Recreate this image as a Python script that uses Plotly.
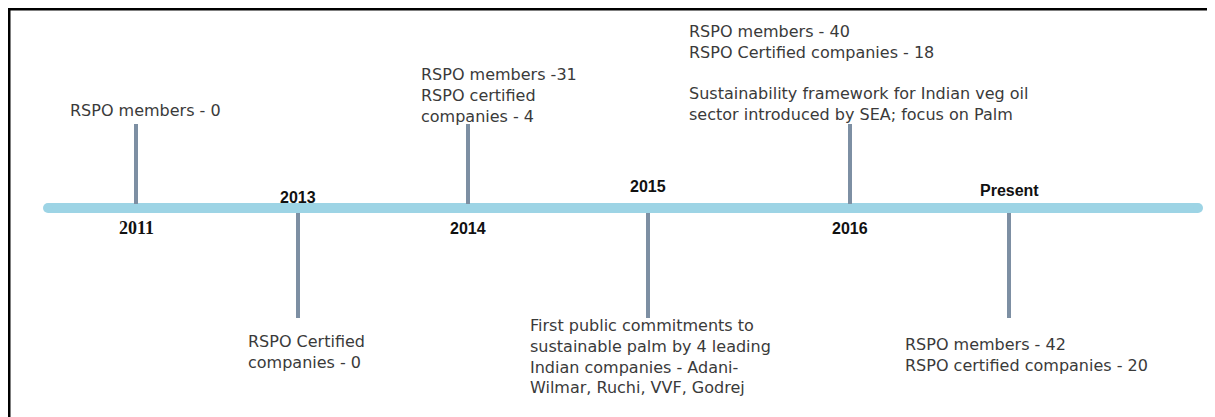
import plotly.graph_objects as go

# ---- data ----
years = ["2011", "2013", "2014", "2015", "2016", "Present"]
side = ["up", "down", "up", "down", "up", "down"]      # where the event text sits
event_x = [136, 298, 468, 648, 850, 1009]             # position along the timeline
event_text = [
    ["RSPO members - 0"],
    ["RSPO Certified", "companies - 0"],
    ["RSPO members -31", "RSPO certified", "companies - 4"],
    ["First public commitments to", "sustainable palm by 4 leading",
     "Indian companies - Adani-", "Wilmar, Ruchi, VVF, Godrej"],
    ["RSPO members - 40", "RSPO Certified companies - 18", "",
     "Sustainability framework for Indian veg oil", "sector introduced by SEA; focus on Palm"],
    ["RSPO members - 42", "RSPO certified companies - 20"],
]

# ---- layout constants (pixels) ----
W, H = 1215, 417
OFF = 8  # page body margin in the browser
BAR_Y = 208
BAR_X0, BAR_X1 = 48, 1198
STEM_TOP, STEM_BOTTOM = 124, 318
BAR_COLOR = "#9dd4e5"
STEM_COLOR = "#7d8fa3"
TEXT_COLOR = "#3a3a3a"
LINE_H = 20

# text block anchors: left edge, centre of first line
block_left = [68, 246, 419, 528, 687, 903]
block_top = [110, 342, 75, 326, 33, 345]
# year label centres
year_y = [228, 197, 228, 186, 228, 190]
year_font = ["Liberation Serif", "Liberation Sans", "Liberation Sans",
             "Liberation Sans", "Liberation Sans", "Liberation Sans"]
year_size = [18, 16, 16, 16, 16, 16]

fig = go.Figure()

# main timeline bar
fig.add_trace(go.Scatter(
    x=[BAR_X0, BAR_X1], y=[BAR_Y, BAR_Y], mode="lines+markers",
    line=dict(color=BAR_COLOR, width=10),
    marker=dict(color=BAR_COLOR, size=10, line_width=0),
    hoverinfo="skip", showlegend=False,
))

# stems
for x, s in zip(event_x, side):
    y1 = STEM_TOP if s == "up" else STEM_BOTTOM
    y0 = BAR_Y - 4 if s == "up" else BAR_Y + 5
    fig.add_trace(go.Scatter(
        x=[x, x], y=[y0, y1], mode="lines",
        line=dict(color=STEM_COLOR, width=4),
        hoverinfo="skip", showlegend=False,
    ))

annotations = []
for i, yr in enumerate(years):
    annotations.append(dict(
        x=event_x[i], y=year_y[i], text=f"<b>{yr}</b>", showarrow=False,
        xanchor="center", yanchor="middle",
        font=dict(family=year_font[i], size=year_size[i], color="#111111"),
    ))
    lines = event_text[i]
    centre = block_top[i] + (len(lines) - 1) * LINE_H / 2
    annotations.append(dict(
        x=block_left[i], y=centre, text="<br>".join(lines), showarrow=False,
        xanchor="left", yanchor="middle", align="left",
        font=dict(family="DejaVu Sans", size=16, color=TEXT_COLOR),
    ))

# frame: top and left edges only
shapes = [
    dict(type="line", x0=8, x1=W, y0=9, y1=9, line=dict(color="black", width=3)),
    dict(type="line", x0=9, x1=9, y0=8, y1=H, line=dict(color="black", width=3)),
]

fig.update_layout(
    width=W - OFF, height=H - OFF,
    margin=dict(l=0, r=0, t=0, b=0),
    plot_bgcolor="white", paper_bgcolor="white",
    xaxis=dict(range=[OFF, W], visible=False, fixedrange=True),
    yaxis=dict(range=[H, OFF], visible=False, fixedrange=True),
    annotations=annotations, shapes=shapes,
    showlegend=False,
)

fig.write_html("out.html")
